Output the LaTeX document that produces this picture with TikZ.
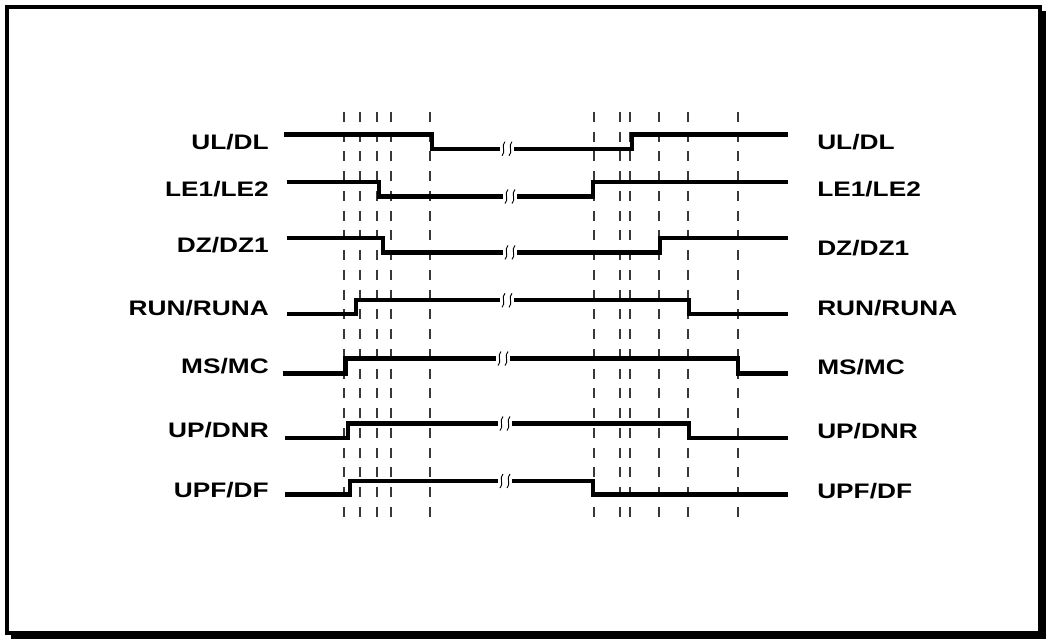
\documentclass[tikz,border=0pt]{standalone}
\usepackage{fontspec}
\setmainfont{Liberation Sans}
\usepackage{graphicx}
\begin{document}
\begin{tikzpicture}[x=0.75pt,y=-0.75pt,
  sig/.style={line width=3.2pt, line join=miter, line cap=butt},
  grid/.style={line width=1.5pt, draw=black!78, dash pattern=on 7.5pt off 7.31pt},
  brkline/.style={line width=0.7pt},
  lbl/.style={inner sep=0pt, text height=11.3pt, text depth=0pt,
    font=\fontsize{15.75pt}{18pt}\selectfont\bfseries}]
\useasboundingbox (0,0) rectangle (1046,640);
\newcommand\wide[1]{\scalebox{1.25}[1]{#1}}
% break mark: two small wavy strokes across the gap at (#1,#2)
\newcommand\brk[2]{%
  \draw[brkline] (#1-2,#2-7) .. controls (#1-6.5,#2-3) and (#1-0.5,#2+3) .. (#1-5,#2+7);
  \draw[brkline] (#1+5,#2-7) .. controls (#1+0.5,#2-3) and (#1+6.5,#2+3) .. (#1+2,#2+7);}

% frame with drop shadow
\fill[black] (11,11) rectangle (1046,639);
\draw[line width=3pt, fill=white] (7,7) rectangle (1040,633);

% timing reference lines
\foreach \x in {344,360,377,391,430,594,620,630,659,688,738}
  \draw[grid] (\x,112) -- (\x,517);

% UL/DL
\draw[sig] (284,134.5) -- (432,134.5) -- (432,148.7) -- (500,148.7);
\draw[sig] (514,148.7) -- (632,148.7) -- (632,134.5) -- (788,134.5);
\brk{507}{148.7}
% LE1/LE2
\draw[sig] (287,182) -- (378.7,182) -- (378.7,196.5) -- (503,196.5);
\draw[sig] (517,196.5) -- (592.7,196.5) -- (592.7,182) -- (788,182);
\brk{510}{196.5}
% DZ/DZ1
\draw[sig] (287,238.3) -- (383.3,238.3) -- (383.3,252.4) -- (503,252.4);
\draw[sig] (517,252.4) -- (660,252.4) -- (660,238.3) -- (788,238.3);
\brk{510}{252.4}
% RUN/RUNA
\draw[sig] (287,314) -- (356,314) -- (356,300.3) -- (500,300.3);
\draw[sig] (514,300.3) -- (689,300.3) -- (689,314) -- (788,314);
\brk{507}{300.3}
% MS/MC
\draw[sig] (283,373.4) -- (345.5,373.4) -- (345.5,358.5) -- (496,358.5);
\draw[sig] (510,358.5) -- (738,358.5) -- (738,373.4) -- (788,373.4);
\brk{503}{358.5}
% UP/DNR
\draw[sig] (285,438) -- (348.3,438) -- (348.3,423.5) -- (498,423.5);
\draw[sig] (512,423.5) -- (689,423.5) -- (689,438) -- (788,438);
\brk{505}{423.5}
% UPF/DF
\draw[sig] (285,494.5) -- (350.3,494.5) -- (350.3,481) -- (498,481);
\draw[sig] (512,481) -- (593,481) -- (593,494.5) -- (788,494.5);
\brk{505}{481}

% signal names, left
\node[lbl, anchor=east] (l1) at (269,141.5) {\wide{UL/DL}};
\node[lbl, anchor=east] (l2) at (269,188.5) {\wide{LE1/LE2}};
\node[lbl, anchor=east] (l3) at (269,244.5) {\wide{DZ/DZ1}};
\node[lbl, anchor=east] (l4) at (269,307.5) {\wide{RUN/RUNA}};
\node[lbl, anchor=east] (l5) at (269,365.5) {\wide{MS/MC}};
\node[lbl, anchor=east] (l6) at (269,430) {\wide{UP/DNR}};
\node[lbl, anchor=east] (l7) at (269,490) {\wide{UPF/DF}};
% signal names, right
\node[lbl, anchor=west] (r1) at (817,142) {\wide{UL/DL}};
\node[lbl, anchor=west] (r2) at (817,189) {\wide{LE1/LE2}};
\node[lbl, anchor=west] (r3) at (817,247.5) {\wide{DZ/DZ1}};
\node[lbl, anchor=west] (r4) at (817,307.5) {\wide{RUN/RUNA}};
\node[lbl, anchor=west] (r5) at (817,366.5) {\wide{MS/MC}};
\node[lbl, anchor=west] (r6) at (817,430.5) {\wide{UP/DNR}};
\node[lbl, anchor=west] (r7) at (817,490.5) {\wide{UPF/DF}};
\end{tikzpicture}
\end{document}
